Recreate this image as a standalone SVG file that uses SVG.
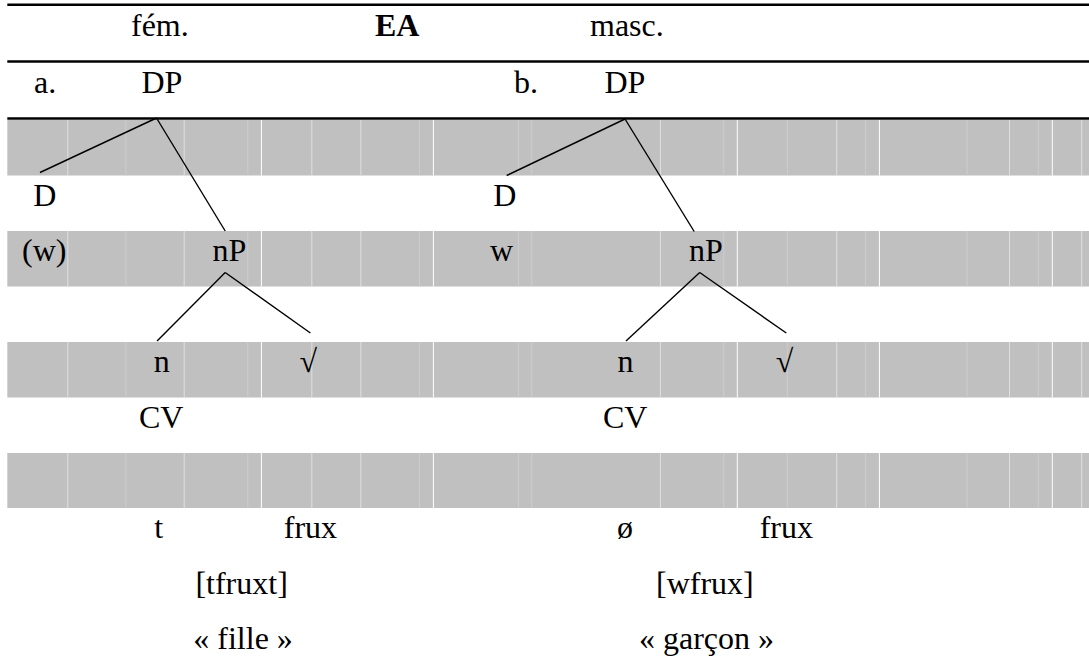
<svg xmlns="http://www.w3.org/2000/svg" width="1089" height="670" viewBox="0 0 1089 670">
<style>
text{font-family:"Liberation Serif","Times New Roman",serif;font-size:32px;fill:#000}
.b{font-weight:bold}
.m{text-anchor:middle}
.band{fill:#c0c0c0}
.rule{stroke:#000;stroke-width:2.6}
.c1{stroke:#ffffff;stroke-width:1}
.c2{stroke:#e0e0e0;stroke-width:1}
.c3{stroke:#cdcdcd;stroke-width:1}
.edge{stroke:#000;stroke-width:1.4;fill:none}
</style>
<rect width="1089" height="670" fill="#fff"/>
<g id="bands">
<rect class="band" x="7.3" y="120" width="1081.7" height="55.5"/>
<rect class="band" x="7.3" y="231" width="1081.7" height="55.5"/>
<rect class="band" x="7.3" y="342" width="1081.7" height="55.5"/>
<rect class="band" x="7.3" y="453" width="1081.7" height="55"/>
</g>
<g id="column-lines">
<g class="c2">
<path d="M67.8 120v55.5M67.8 231v55.5M67.8 342v55.5M67.8 453v55"/>
<path d="M184.2 120v55.5M184.2 231v55.5M184.2 342v55.5M184.2 453v55"/>
<path d="M311.8 120v55.5M311.8 231v55.5M311.8 342v55.5M311.8 453v55"/>
<path d="M360.8 120v55.5M360.8 231v55.5M360.8 342v55.5M360.8 453v55"/>
<path d="M660.4 120v55.5M660.4 231v55.5M660.4 342v55.5M660.4 453v55"/>
<path d="M836.7 120v55.5M836.7 231v55.5M836.7 342v55.5M836.7 453v55"/>
<path d="M1009.5 120v55.5M1009.5 231v55.5M1009.5 342v55.5M1009.5 453v55"/>
<path d="M1081.7 120v55.5M1081.7 231v55.5M1081.7 342v55.5M1081.7 453v55"/>
</g>
<g class="c1">
<path d="M261.4 120v55.5M261.4 231v55.5M261.4 342v55.5M261.4 453v55"/>
<path d="M433.4 120v55.5M433.4 231v55.5M433.4 342v55.5M433.4 453v55"/>
<path d="M737.3 120v55.5M737.3 231v55.5M737.3 342v55.5M737.3 453v55"/>
<path d="M879.4 120v55.5M879.4 231v55.5M879.4 342v55.5M879.4 453v55"/>
<path d="M1052.3 120v55.5M1052.3 231v55.5M1052.3 342v55.5M1052.3 453v55"/>
</g>
<g class="c3">
<path d="M125.8 120v55.5M125.8 231v55.5M125.8 342v55.5M125.8 453v55"/>
<path d="M247.8 120v55.5M247.8 231v55.5M247.8 342v55.5M247.8 453v55"/>
<path d="M419.5 120v55.5M419.5 231v55.5M419.5 342v55.5M419.5 453v55"/>
<path d="M518.5 120v55.5M518.5 231v55.5M518.5 342v55.5M518.5 453v55"/>
<path d="M531.7 120v55.5M531.7 231v55.5M531.7 342v55.5M531.7 453v55"/>
<path d="M723.7 120v55.5M723.7 231v55.5M723.7 342v55.5M723.7 453v55"/>
<path d="M787.3 120v55.5M787.3 231v55.5M787.3 342v55.5M787.3 453v55"/>
<path d="M865.5 120v55.5M865.5 231v55.5M865.5 342v55.5M865.5 453v55"/>
<path d="M967 120v55.5M967 231v55.5M967 342v55.5M967 453v55"/>
<path d="M1038.3 120v55.5M1038.3 231v55.5M1038.3 342v55.5M1038.3 453v55"/>
</g>
</g>
<g id="rules">
<line class="rule" x1="7.3" y1="4.7" x2="1089" y2="4.7"/>
<line class="rule" x1="7.3" y1="61.5" x2="1089" y2="61.5"/>
<line class="rule" x1="7.3" y1="118.5" x2="1089" y2="118.5"/>
</g>
<g id="header">
<text x="131" y="35.5">fém.</text>
<text class="b" x="375" y="35.5">EA</text>
<text x="590" y="35.5">masc.</text>
</g>
<g id="connectors">
<line class="edge" x1="156.5" y1="118" x2="40" y2="172.5"/>
<line class="edge" x1="156.5" y1="118" x2="225.2" y2="231"/>
<line class="edge" x1="225.2" y1="272.5" x2="157.1" y2="341"/>
<line class="edge" x1="225.2" y1="272.5" x2="310.4" y2="333"/>
<line class="edge" x1="625" y1="119" x2="506.7" y2="175.5"/>
<line class="edge" x1="625" y1="119" x2="694.2" y2="231.5"/>
<line class="edge" x1="699.7" y1="272.5" x2="626" y2="341"/>
<line class="edge" x1="699.7" y1="272.5" x2="786.3" y2="333"/>
</g>
<g id="tree-a">
<g id="a-label"><text x="34" y="93">a.</text></g>
<g id="a-DP"><text x="141.5" y="93">DP</text></g>
<g id="a-D"><text x="33.3" y="205.5">D</text></g>
<g id="a-w"><text x="22" y="261">(w)</text></g>
<g id="a-nP"><text x="212.5" y="261">nP</text></g>
<g id="a-n"><text x="153.8" y="372">n</text></g>
<g id="a-root"><text class="m" x="308.3" y="372">√</text></g>
<g id="a-CV"><text x="139" y="427.5">CV</text></g>
<g id="a-t"><text x="154.3" y="538">t</text></g>
<g id="a-frux"><text x="283.8" y="538">frux</text></g>
<g id="a-form"><text x="195.4" y="593.5">[tfruxt]</text></g>
<g id="a-gloss"><text x="193.3" y="649">« fille »</text></g>
</g>
<g id="tree-b">
<g id="b-label"><text x="514" y="93">b.</text></g>
<g id="b-DP"><text x="604.5" y="93">DP</text></g>
<g id="b-D"><text x="493.2" y="205.5">D</text></g>
<g id="b-w"><text x="490" y="261">w</text></g>
<g id="b-nP"><text x="689" y="261">nP</text></g>
<g id="b-n"><text x="617.5" y="372">n</text></g>
<g id="b-root"><text class="m" x="784.5" y="372">√</text></g>
<g id="b-CV"><text x="603" y="427.5">CV</text></g>
<g id="b-zero"><text x="617" y="538">ø</text></g>
<g id="b-frux"><text x="759.7" y="538">frux</text></g>
<g id="b-form"><text x="656" y="593.5">[wfrux]</text></g>
<g id="b-gloss"><text x="639" y="649">« garçon »</text></g>
</g>
</svg>
